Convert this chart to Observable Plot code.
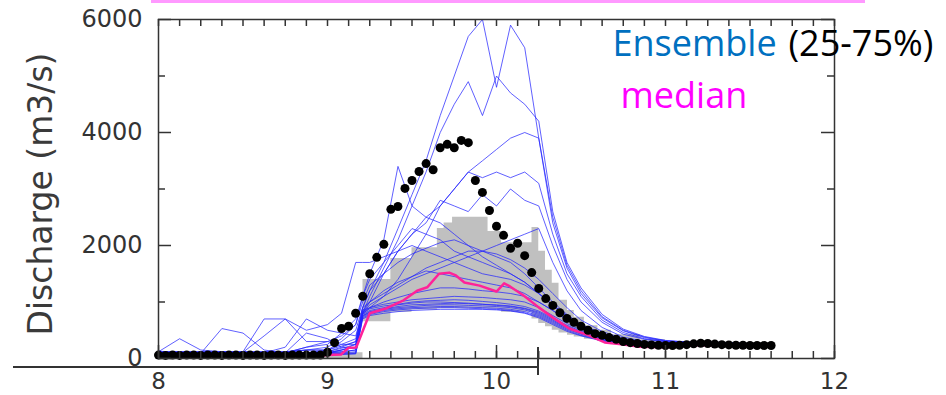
<!DOCTYPE html>
<html><head><meta charset="utf-8">
<script src="https://cdn.jsdelivr.net/npm/d3@7"></script>
<script src="https://cdn.jsdelivr.net/npm/@observablehq/plot@0.6"></script>
<style>
body{margin:0;background:#fff;}
#wrap{position:relative;width:946px;height:395px;overflow:hidden;background:#fff;}
#topbar{position:absolute;left:151px;top:0;width:714px;height:3px;background:#ff99ff;}
#baseline{position:absolute;left:13px;top:366px;width:525px;height:1.5px;background:#333;}
#basetick{position:absolute;left:537px;top:347px;width:1.5px;height:28px;background:#333;}
</style></head><body>
<div id="wrap"><div id="topbar"></div><div id="baseline"></div><div id="basetick"></div></div>
<script>
// ---- time grid of ensemble members (days) ----
const T = [8.0,8.125,8.25,8.375,8.5,8.625,8.75,8.875,9.0,9.083,9.167,9.208,9.25,9.333,9.417,9.5,9.583,9.667,9.75,9.833,9.917,10.0,10.083,10.167,10.25,10.333,10.417,10.5,10.625,10.75,10.875,11.0,11.125,11.25,11.375,11.5,11.625];

// ---- ensemble members (m3/s) ----
const L1 = [60,60,60,60,60,60,60,60, 60,70,80,700, 760,800,830,850, 860,870,870,870, 870,860,840,800, 720,600,480,400, 310,250,220,210, 230,250,240,225,220];
const L2 = [80,80,70,70,70,70,70,70, 70,80,90,720, 780,830,860,880, 890,900,900,890, 880,870,850,810, 740,620,500,410, 320,260,225,215, 235,250,240,225,220];
const L3 = [100,90,90,80,80,80,80,80, 80,90,100,740, 800,850,880,900, 910,920,920,910, 900,890,870,830, 760,640,520,430, 330,265,230,220, 240,255,245,230,225];
const L4 = [120,350,150,120,100,90,90,90, 90,100,120,750, 820,870,900,920, 940,950,950,940, 930,920,900,860, 780,660,540,440, 340,270,235,225, 245,260,250,235,230];
const L5 = [90,90,90,530,450,150,100,100, 100,120,150,760, 830,880,920,950, 960,970,980,970, 960,940,920,880, 800,680,550,450, 350,275,240,230, 250,265,255,240,230];
const L6 = [110,100,100,100,100,100,100,450, 350,200,180,780, 850,900,950,980, 1000,1000,990,980, 960,950,930,890, 820,700,570,460, 360,280,245,235, 255,270,260,245,235];
const L7 = [130,110,110,110,110,400,700,300, 300,250,250,800, 880,930,960,1000, 1020,1030,1040,1030, 1010,990,960,920, 840,720,590,480, 370,290,250,240, 260,275,265,250,240];
const L8 = [100,100,100,100,100,100,200,700, 500,450,400,820, 900,960,1000,1040, 1060,1080,1100,1090, 1080,1060,1040,1000, 900,760,620,500, 380,295,255,245, 265,280,270,255,245];
const M1 = [100,100,100,100,100,100,100,100, 150,300,500,900, 1200,1500,1900,2200, 2500,2400,2200,2000, 1800,1650,1500,1350, 1150,950,750,580, 420,320,270,255, 270,285,270,255,245];
const M2 = [100,100,100,100,100,100,100,200, 300,400,600,1000, 1300,1500,1700,1850, 1950,2050,2100,2000, 1900,1800,1700,1500, 1250,1000,780,600, 440,330,275,260, 275,290,275,260,250];
const M3 = [100,100,100,100,120,700,700,500, 600,800,1700,1700, 1700,1800,1900,2000, 1900,1800,1700,1600, 1500,1450,1400,1300, 1150,950,760,600, 440,330,275,260, 275,290,275,260,250];
const M4 = [100,100,100,100,100,100,100,100, 100,150,200,800, 1000,1200,1350,1450, 1550,1500,1450,1400, 1350,1300,1250,1150, 1000,850,680,540, 400,310,260,250, 265,280,265,250,240];
const M5 = [100,100,100,100,100,100,100,100, 100,150,200,800, 950,1100,1250,1400, 1500,1600,1700,1800, 1900,2000,2100,2200, 2300,1700,1200,850, 550,380,300,270, 280,295,280,265,255];
const M6 = [100,100,100,100,100,100,100,100, 120,180,250,850, 1000,1150,1300,1450, 1600,1700,1800,1900, 1900,1850,1750,1600, 1400,1150,900,680, 480,350,285,265, 275,290,275,260,250];
const M7 = [100,100,100,100,100,100,100,100, 100,120,150,780, 900,1000,1080,1150, 1200,1250,1250,1230, 1200,1180,1150,1100, 1000,850,680,540, 400,310,260,248, 262,278,265,250,240];
const M8 = [100,100,100,100,100,100,100,150, 200,350,600,1100, 1400,1700,2000,2300, 2200,2100,1900,1800, 1700,1600,1500,1350, 1150,940,740,580, 420,320,270,255, 270,285,270,255,245];
const H1 = [120,120,120,120,120,120,120,150, 150,250,350,900, 1200,1700,2300,2900, 3500,4300,5000,5700, 6000,4800,5900,5500, 3900,2400,1600,1150, 720,490,370,310, 290,280,260,250,245];
const H2 = [120,120,120,120,120,120,120,150, 150,220,300,800, 1100,1600,2100,2700, 3300,4000,4500,4900, 4300,5000,4700,4500, 4200,2600,1700,1250, 780,520,390,320, 295,285,265,255,250];
const H3 = [100,100,100,100,100,100,100,200, 250,450,700,1100, 1500,2100,3400,2700, 2500,2700,3000,3300, 3200,3300,3200,3300, 3100,2200,1500,1100, 680,460,350,300, 285,275,260,250,245];
const H4 = [100,100,100,100,100,100,100,100, 100,150,250,850, 900,1100,1400,1800, 2200,2700,3000,3300, 3500,3700,3900,4000, 3900,2500,1650,1200, 740,500,380,315, 290,280,262,252,246];
const H5 = [100,100,100,100,100,100,100,100, 120,200,300,900, 1000,1500,1900,2200, 2400,2800,2700,2600, 2900,2700,3000,2800, 2700,2000,1400,1000, 640,430,340,295, 282,272,258,248,242];
const members = [L1,L2,L3,L4,L5,L6,L7,L8,M1,M2,M3,M4,M5,M6,M7,M8,H1,H2,H3,H4,H5];

// ---- ensemble 25-75% band (stepped) ----
const bandT  = [8.0, 9.0, 9.21, 9.375, 9.5, 9.65, 9.69, 9.74, 9.95, 10.03, 10.21, 10.25, 10.29, 10.33, 10.37, 10.42, 10.46, 10.52, 10.6, 10.68, 10.85, 11.0, 11.625];
const bandLo = [0, 0, 650, 820, 860, 880, 880, 880, 870, 820, 700, 620, 560, 500, 450, 410, 380, 340, 300, 270, 240, 230, 230];
const bandHi = [60, 100, 1400, 1770, 1960, 2300, 2400, 2500, 2250, 2050, 2320, 1900, 1560, 1330, 1030, 850, 730, 580, 500, 420, 330, 280, 280];

// ---- ensemble median ----
const medT = [8.0, 8.5, 8.9, 9.0, 9.08, 9.125, 9.17, 9.25, 9.35, 9.45, 9.53, 9.59, 9.66, 9.72, 9.76, 9.81, 9.9, 10.0, 10.045, 10.08, 10.16, 10.25, 10.34, 10.43, 10.55, 10.64, 10.74, 10.84, 11.0, 11.2, 11.4, 11.625];
const medV = [30, 30, 40, 60, 70, 190, 195, 800, 890, 1030, 1200, 1260, 1500, 1520, 1470, 1345, 1290, 1185, 1330, 1275, 1115, 905, 710, 530, 405, 285, 250, 210, 200, 240, 220, 220];

// ---- observed discharge, hourly from day 8.0 ----
const obsStart = 8.0;
const obsV = [60,55,60,55,60,60,55,60,60,55,60,60,55,60,60,55,60,60,55,60,60,60,60,60,
  110,280,530,570,800,1100,1500,1790,2020,2640,2690,3010,3150,3310,3450,3340,3730,3790,3730,3860,3820,3150,2940,2620,
  2340,2180,1950,2040,1820,1520,1240,1060,940,810,710,640,570,500,440,410,370,340,300,280,265,250,240,235,
  230,230,235,245,260,270,265,255,245,240,235,235,230,230,230,230];

// ---- axes ----
const yMajor = [0, 2000, 4000, 6000];
const yMinor = [1000, 3000, 5000];
const xMajor = [8, 9, 10, 11, 12];
const xMinor = d3.range(8, 12.0001, 0.125);

// ---- texts ----
const yTitle = "Discharge (m3/s)";
const legEns = "Ensemble", legPct = "(25-75%)", legMed = "median";

const lineData = members.flatMap((vals, m) => vals.map((v, i) => ({t: T[i], v, m})));
const band = bandT.map((t, i) => ({t, lo: bandLo[i], hi: bandHi[i]}));
const med = medT.map((t, i) => ({t, v: medV[i]}));
const obs = obsV.map((v, i) => ({t: obsStart + i / 24, v}));

// frame inner size in pixels: 676 x 339
const tk = {stroke: "#333", strokeWidth: 1.5};
const chart = Plot.plot({
  width: 946, height: 395,
  marginLeft: 158, marginRight: 112, marginTop: 19, marginBottom: 37,
  x: {domain: [8, 12]},
  y: {domain: [0, 6000]},
  style: {fontFamily: "DejaVu Sans", fontSize: "24px", color: "#333", background: "transparent", overflow: "visible"},
  marks: [
    Plot.areaY(band, {x: "t", y1: "lo", y2: "hi", curve: "step-after", fill: "#c0c0c0"}),
    Plot.line(lineData, {x: "t", y: "v", z: "m", stroke: "#2222ff", strokeWidth: 1, strokeOpacity: 0.72}),
    Plot.line(med, {x: "t", y: "v", stroke: "#ff2299", strokeWidth: 2.5}),
    Plot.dot(obs, {x: "t", y: "v", r: 4.5, fill: "black", stroke: null}),
    Plot.frame({stroke: "#333", strokeWidth: 1.5}),
    // inward ticks
    Plot.tickY(yMajor, {y: d => d, insetRight: 663, ...tk}),
    Plot.tickY(yMinor, {y: d => d, insetRight: 669, ...tk}),
    Plot.tickY(yMajor, {y: d => d, insetLeft: 663, ...tk}),
    Plot.tickY(yMinor, {y: d => d, insetLeft: 669, ...tk}),
    Plot.tickX(xMinor, {x: d => d, insetTop: 332, ...tk}),
    Plot.tickX(xMajor, {x: d => d, insetTop: 326, ...tk}),
    Plot.tickX(xMinor, {x: d => d, insetBottom: 332, ...tk}),
    // tick labels
    Plot.axisY(yMajor, {anchor: "left", tickSize: 0, tickPadding: 16, tickFormat: "d", fontSize: 24, label: null, fill: "#333"}),
    Plot.axisX(xMajor, {anchor: "bottom", tickSize: 0, tickPadding: 14, tickFormat: "d", fontSize: 23, label: null, fill: "#333"}),
    Plot.text([yTitle], {frameAnchor: "left", dx: -117, dy: 5, rotate: -90, fontSize: 33, fill: "#3a3a3a", textAnchor: "middle", lineAnchor: "middle"}),
    Plot.text([legEns], {frameAnchor: "top-left", dx: 454, dy: 36, textAnchor: "start", lineAnchor: "bottom", fontSize: 36, fontFamily: "Open Sans", fill: "#0070c0"}),
    Plot.text([legPct], {frameAnchor: "top-left", dx: 630, dy: 36, textAnchor: "start", lineAnchor: "bottom", fontSize: 36, fontFamily: "Open Sans", fill: "#000"}),
    Plot.text([legMed], {frameAnchor: "top-left", dx: 462, dy: 88, textAnchor: "start", lineAnchor: "bottom", fontSize: 36, fontFamily: "Open Sans", fill: "#ff00ff"})
  ]
});
chart.style.position = "absolute";
chart.style.left = "0px";
chart.style.top = "0px";
document.getElementById("wrap").prepend(chart);
</script>
</body></html>
